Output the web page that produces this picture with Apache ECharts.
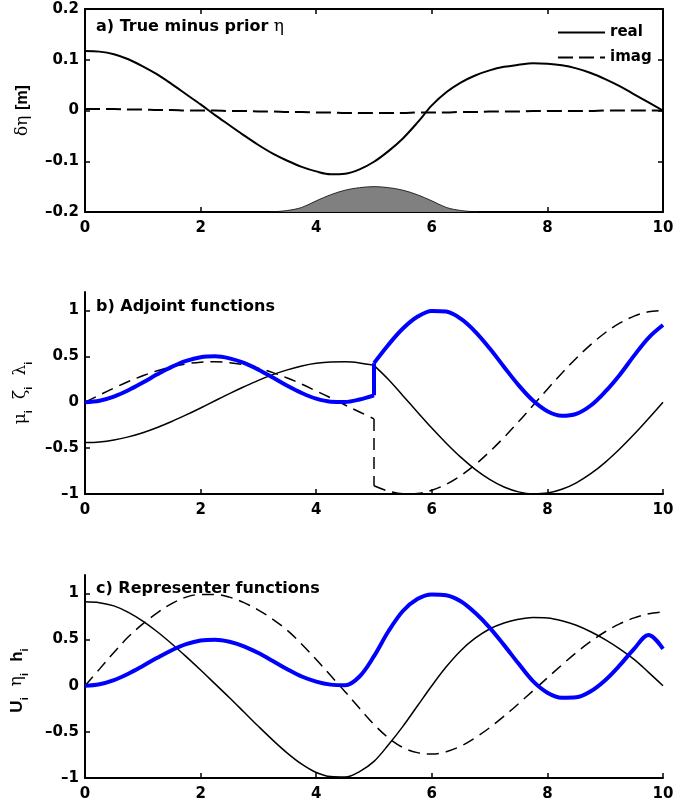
<!DOCTYPE html>
<html><head><meta charset="utf-8">
<script src="https://cdn.jsdelivr.net/npm/echarts@6/dist/echarts.min.js"></script>
<style>html,body{margin:0;padding:0;background:#fff}#c{width:699px;height:807px}</style>
</head><body><div id="c"></div>
<script>
// ---- data ----
const xTicks = [0, 2, 4, 6, 8, 10];
const aYTicks = [-0.2, -0.1, 0, 0.1, 0.2];
const bcYTicks = [-1, -0.5, 0, 0.5, 1];

const xFull = [0,0.25,0.5,0.75,1,1.25,1.5,1.75,2,2.25,2.5,2.75,3,3.25,3.5,3.75,4,4.25,4.5,4.75,5,5.25,5.5,5.75,6,6.25,6.5,6.75,7,7.25,7.5,7.75,8,8.25,8.5,8.75,9,9.25,9.5,9.75,10];
const aReal = [0.117,0.116,0.111,0.101,0.087,0.071,0.052,0.032,0.012,-0.009,-0.029,-0.049,-0.068,-0.085,-0.099,-0.111,-0.120,-0.1255,-0.1245,-0.116,-0.101,-0.080,-0.055,-0.024,0.010,0.036,0.055,0.069,0.079,0.086,0.090,0.093,0.092,0.089,0.083,0.074,0.062,0.048,0.032,0.016,0.000];
const aImag = [0.003,0.003,0.003,0.002,0.002,0.001,0.001,0.000,0.000,0.000,-0.001,-0.001,-0.002,-0.002,-0.003,-0.003,-0.004,-0.004,-0.005,-0.005,-0.005,-0.005,-0.005,-0.004,-0.004,-0.004,-0.003,-0.003,-0.002,-0.002,-0.002,-0.001,-0.001,-0.001,-0.001,-0.001,0.000,0.000,0.000,0.000,0.000];
const xBump = [3,3.25,3.5,3.75,4,4.25,4.5,4.75,5,5.25,5.5,5.75,6,6.25,6.5,6.75,7];
const aBump = [-0.200,-0.1995,-0.197,-0.191,-0.178,-0.166,-0.157,-0.152,-0.150,-0.152,-0.157,-0.166,-0.178,-0.191,-0.197,-0.1995,-0.200];

const xPre = [0,0.25,0.5,0.75,1,1.25,1.5,1.75,2,2.25,2.5,2.75,3,3.25,3.5,3.75,4,4.25,4.5,4.75,5];
const bSolidPre = [-0.440,-0.433,-0.412,-0.378,-0.333,-0.276,-0.211,-0.139,-0.063,0.016,0.094,0.168,0.238,0.300,0.352,0.394,0.423,0.437,0.439,0.427,0.401];
const bDashPre = [0,0.078,0.154,0.225,0.288,0.343,0.386,0.417,0.436,0.440,0.430,0.407,0.370,0.322,0.263,0.197,0.122,0.047,-0.031,-0.107,-0.182];
const bBluePre = [0,0.016,0.061,0.130,0.214,0.303,0.385,0.450,0.490,0.499,0.477,0.427,0.354,0.268,0.179,0.100,0.038,0.006,0.003,0.030,0.075];
const xPost = [5,5.25,5.5,5.75,6,6.25,6.5,6.75,7,7.25,7.5,7.75,8,8.25,8.5,8.75,9,9.25,9.5,9.75,10];
const bSolidPost = [0.401,0.247,0.071,-0.107,-0.282,-0.447,-0.599,-0.732,-0.841,-0.924,-0.977,-0.999,-0.990,-0.949,-0.878,-0.779,-0.655,-0.510,-0.350,-0.178,0.000];
const bDashPost = [-0.910,-0.969,-0.997,-0.994,-0.959,-0.894,-0.800,-0.681,-0.540,-0.383,-0.213,-0.036,0.142,0.316,0.479,0.627,0.756,0.860,0.937,0.984,1.000];
const bBluePost = [0.425,0.626,0.802,0.930,0.994,0.987,0.909,0.769,0.587,0.384,0.186,0.018,-0.098,-0.148,-0.127,-0.036,0.114,0.297,0.507,0.701,0.840];
const xJump = [5, 5];
const bBlueJump = [0.075, 0.425];
const bDashJump = [-0.182, -0.910];

const cSolid = [0.91,0.90,0.865,0.795,0.70,0.585,0.455,0.315,0.17,0.02,-0.13,-0.285,-0.44,-0.59,-0.73,-0.85,-0.94,-0.985,-0.99,-0.93,-0.82,-0.64,-0.44,-0.22,0.00,0.205,0.38,0.515,0.615,0.68,0.72,0.74,0.735,0.705,0.655,0.585,0.50,0.40,0.285,0.145,0.00];
const cDash = [0,0.18,0.36,0.53,0.67,0.79,0.89,0.96,0.99,0.99,0.96,0.90,0.82,0.72,0.60,0.45,0.285,0.11,-0.065,-0.245,-0.42,-0.565,-0.67,-0.725,-0.74,-0.715,-0.655,-0.565,-0.455,-0.33,-0.195,-0.055,0.085,0.225,0.36,0.48,0.585,0.67,0.735,0.78,0.80];
const cBlue = [0,0.016,0.061,0.130,0.214,0.303,0.385,0.450,0.490,0.499,0.477,0.427,0.354,0.268,0.179,0.100,0.045,0.012,0.005,0.10,0.32,0.59,0.81,0.94,0.99,0.98,0.915,0.79,0.63,0.44,0.24,0.05,-0.075,-0.13,-0.125,-0.06,0.06,0.22,0.40,0.55,0.40];

// ---- chart ----
const FONT = 'DejaVu Sans, Liberation Sans, Arial, sans-serif';
const SANS = 'Liberation Sans, Arial, sans-serif';
const GREEK = 'DejaVu Serif, Liberation Serif, serif';
const pairs = (xs, ys) => xs.map((x, i) => [x, ys[i]]);
const fmt = v => String(+v.toFixed(2)).replace('-', '\u2013');
const DASH = [12, 7];
const DASH_A = [15, 6];

const lineAx = {show: true, onZero: false, lineStyle: {color: '#000', width: 2}};
const tickAx = {show: true, inside: true, length: 5, lineStyle: {color: '#000', width: 1.5}};
const lblSt = {color: '#000', fontFamily: FONT, fontWeight: 'bold', fontSize: 15};

function xAx(grid, pos, showLbl) {
  return {type: 'value', gridIndex: grid, position: pos, min: 0, max: 10, interval: 2,
    axisLine: lineAx, axisTick: Object.assign({}, tickAx, {customValues: xTicks}),
    axisLabel: Object.assign({show: showLbl, margin: 9, customValues: xTicks}, lblSt),
    splitLine: {show: false}};
}
function yAx(grid, pos, min, max, ticks, showLbl, name, rich, gap, pad) {
  return {type: 'value', gridIndex: grid, position: pos, min: min, max: max, interval: ticks[1] - ticks[0],
    axisLine: lineAx, axisTick: Object.assign({}, tickAx, {customValues: ticks}),
    axisLabel: Object.assign({show: showLbl, margin: 6, customValues: ticks, formatter: fmt}, lblSt),
    splitLine: {show: false},
    name: name || '', nameLocation: 'middle', nameRotate: 90, nameGap: gap || 48,
    nameTextStyle: {color: '#000', fontFamily: FONT, fontWeight: 'bold', fontSize: 16, padding: pad || 0, rich: rich || {}}};
}
function ln(name, xi, yi, xs, ys, opts) {
  return Object.assign({type: 'line', name: name, xAxisIndex: xi, yAxisIndex: yi, data: pairs(xs, ys),
    smooth: 0.35, symbol: 'none', animation: false, silent: true,
    itemStyle: {color: '#000'},
    lineStyle: {color: '#000', width: 1.5, type: 'solid'}}, opts || {});
}

const g = {fontFamily: GREEK, fontWeight: 'normal', fontSize: 17, lineHeight: 26, color: '#000'};
const s = {fontFamily: SANS, fontWeight: 'bold', fontSize: 11, lineHeight: 11, verticalAlign: 'bottom', color: '#000'};
const bb = {fontFamily: SANS, fontWeight: 'bold', fontSize: 17, lineHeight: 26, color: '#000'};

const titleSt = {color: '#000', fontFamily: FONT, fontWeight: 'bold', fontSize: 16};

const option = {
  animation: false,
  backgroundColor: '#fff',
  grid: [
    {left: 85, width: 578, top: 9, height: 203},
    {left: 85, width: 578, top: 292, height: 202},
    {left: 85, width: 578, top: 575, height: 203}
  ],
  title: [
    {text: 'a) True minus prior {e|\u03b7}', left: 96, top: 18, padding: 0,
      textStyle: Object.assign({rich: {e: {fontFamily: GREEK, fontWeight: 'normal', fontSize: 17, color: '#000'}}}, titleSt)},
    {text: 'b) Adjoint functions', left: 96, top: 299, padding: 0, textStyle: titleSt},
    {text: 'c) Representer functions', left: 96, top: 581, padding: 0, textStyle: titleSt}
  ],
  legend: {data: ['real', 'imag'], orient: 'vertical', left: 557, top: 25, itemWidth: 47, itemHeight: 14, itemGap: 10,
    padding: 0, itemStyle: {opacity: 0},
    textStyle: {color: '#000', fontFamily: FONT, fontWeight: 'bold', fontSize: 15}},
  xAxis: [
    xAx(0, 'bottom', true),
    xAx(0, 'top', false),
    xAx(1, 'bottom', true),
    xAx(2, 'bottom', true)
  ],
  yAxis: [
    yAx(0, 'left', -0.2, 0.2, aYTicks, true, '{g|\u03b4\u03b7} {b|[m]}', {g: g, b: {fontFamily: SANS, fontWeight: 'bold', fontSize: 16, lineHeight: 26}}, 49),
    yAx(0, 'right', -0.2, 0.2, aYTicks, false),
    yAx(1, 'left', -1, 1.2, bcYTicks, true, '{g|\u03bc}{s|i}  {g|\u03b6}{s|i}  {g|\u03bb}{s|i}', {g: g, s: s}, 48, 0),
    yAx(2, 'left', -1, 1.2, bcYTicks, true, '{b|U}{s|i}  {g|\u03b7}{s|i}  {b|h}{s|i}', {g: g, s: s, b: bb}, 55, [0, 8, 0, 0])
  ],
  series: [
    ln('bump', 0, 0, xBump, aBump, {lineStyle: {color: '#000', width: 0.8}, areaStyle: {color: '#808080', opacity: 1, origin: 'start'}, z: 1}),
    ln('real', 0, 0, xFull, aReal, {lineStyle: {color: '#000', width: 2}, z: 3}),
    ln('imag', 0, 0, xFull, aImag, {lineStyle: {color: '#000', width: 2, type: DASH_A}, z: 3}),

    ln('bsp', 2, 2, xPre, bSolidPre),
    ln('bsq', 2, 2, xPost, bSolidPost),
    ln('bdp', 2, 2, xPre, bDashPre, {lineStyle: {color: '#000', width: 1.5, type: DASH}}),
    ln('bdj', 2, 2, xJump, bDashJump, {smooth: false, lineStyle: {color: '#000', width: 1.5, type: DASH}}),
    ln('bdq', 2, 2, xPost, bDashPost, {lineStyle: {color: '#000', width: 1.5, type: DASH}}),
    ln('bbp', 2, 2, xPre, bBluePre, {lineStyle: {color: '#0000ff', width: 4}, z: 4}),
    ln('bbj', 2, 2, xJump, bBlueJump, {smooth: false, lineStyle: {color: '#0000ff', width: 4}, z: 4}),
    ln('bbq', 2, 2, xPost, bBluePost, {lineStyle: {color: '#0000ff', width: 4}, z: 4}),

    ln('cs', 3, 3, xFull, cSolid),
    ln('cd', 3, 3, xFull, cDash, {lineStyle: {color: '#000', width: 1.5, type: DASH}}),
    ln('cb', 3, 3, xFull, cBlue, {lineStyle: {color: '#0000ff', width: 4}, z: 4})
  ]
};
const chart = echarts.init(document.getElementById('c'), null, {renderer: 'canvas'});
chart.setOption(option);
</script></body></html>
